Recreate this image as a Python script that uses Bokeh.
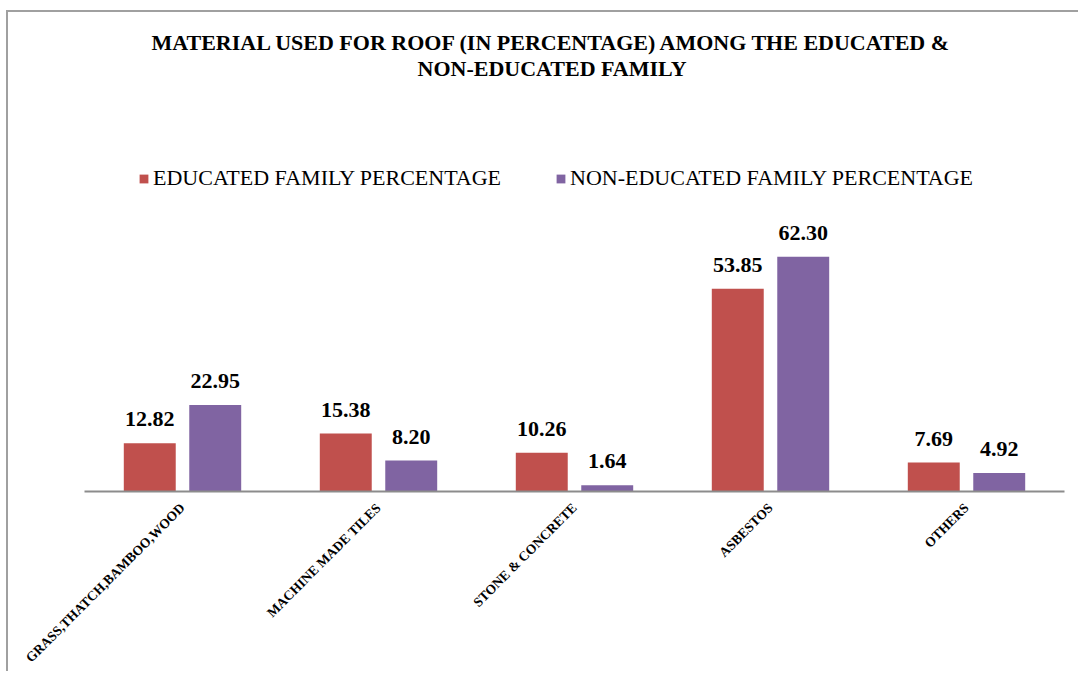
import math
from bokeh.plotting import figure
from bokeh.models import ColumnDataSource, FactorRange, LabelSet, Legend, LegendItem, Range1d, Title
from bokeh.transform import dodge
from bokeh.embed import file_html
from bokeh.resources import INLINE

categories = ["GRASS,THATCH,BAMBOO,WOOD", "MACHINE MADE TILES", "STONE & CONCRETE", "ASBESTOS", "OTHERS"]
educated = [12.82, 15.38, 10.26, 53.85, 7.69]
non_educated = [22.95, 8.20, 1.64, 62.30, 4.92]
series_names = ["EDUCATED FAMILY PERCENTAGE", "NON-EDUCATED FAMILY PERCENTAGE"]
colors = ["#C0504D", "#8064A2"]
title_lines = ["MATERIAL  USED FOR ROOF (IN PERCENTAGE)  AMONG THE  EDUCATED &", "NON-EDUCATED FAMILY"]

Y_END = 109.1

src = ColumnDataSource(dict(
    cat=categories,
    edu=educated,
    non=non_educated,
    edu_lbl=[f"{v:.2f}" for v in educated],
    non_lbl=[f"{v:.2f}" for v in non_educated],
))

p = figure(
    x_range=FactorRange(factors=categories, range_padding=0),
    y_range=Range1d(0, Y_END),
    width=1072, height=661,
    output_backend="svg", toolbar_location=None,
    min_border_left=76, min_border_right=16, min_border_bottom=182, min_border_top=68,
)
p.margin = (12, 0, 0, 8)
p.styles = {"box-shadow": "-2px -2px 0 0 #a0a0a0"}

# (line text, left offset from frame, standoff)
title_layout = [(title_lines[1], 333, 0), (title_lines[0], 67, -2)]
for line, off, so in title_layout:
    t = Title(text=line, align="left", offset=off, text_font="Liberation Serif",
              text_font_style="bold", text_font_size="22px", text_color="black",
              standoff=so)
    p.add_layout(t, "above")

r1 = p.vbar(x=dodge("cat", -0.167, range=p.x_range), top="edu", width=0.265, source=src,
            fill_color=colors[0], line_color=None)
r2 = p.vbar(x=dodge("cat", 0.167, range=p.x_range), top="non", width=0.265, source=src,
            fill_color=colors[1], line_color=None)

for col, ys, off in (("edu_lbl", "edu", -0.167), ("non_lbl", "non", 0.167)):
    lbl = LabelSet(x=dodge("cat", off, range=p.x_range), y=ys, text=col, source=src,
                   text_align="center", text_baseline="alphabetic", y_offset=17,
                   text_font="Liberation Serif", text_font_style="bold",
                   text_font_size="22px", text_color="black")
    p.add_layout(lbl)

legend = Legend(items=[LegendItem(label=series_names[0], renderers=[r1]),
                       LegendItem(label=series_names[1], renderers=[r2])],
                location=(54, 300), orientation="horizontal")
legend.background_fill_alpha = 0
legend.border_line_color = None
legend.padding = 0
legend.margin = 0
legend.spacing = 54
legend.glyph_width = 11
legend.glyph_height = 11
legend.label_height = 11
legend.label_standoff = 4
legend.label_text_font = "Liberation Serif"
legend.label_text_font_size = "22px"
legend.label_text_color = "black"
p.add_layout(legend)

p.xgrid.grid_line_color = None
p.ygrid.grid_line_color = None
p.outline_line_color = None
p.yaxis.visible = False

xa = p.xaxis[0]
xa.axis_line_color = "#8c8c8c"
xa.axis_line_width = 2
xa.major_tick_line_color = None
xa.minor_tick_line_color = None
xa.major_label_orientation = math.pi / 4
xa.major_label_text_font = "Liberation Serif"
xa.major_label_text_font_style = "bold"
xa.major_label_text_font_size = "13.5px"
xa.major_label_text_color = "black"
xa.major_label_standoff = 8

open("out.html", "w").write(file_html(p, INLINE))
